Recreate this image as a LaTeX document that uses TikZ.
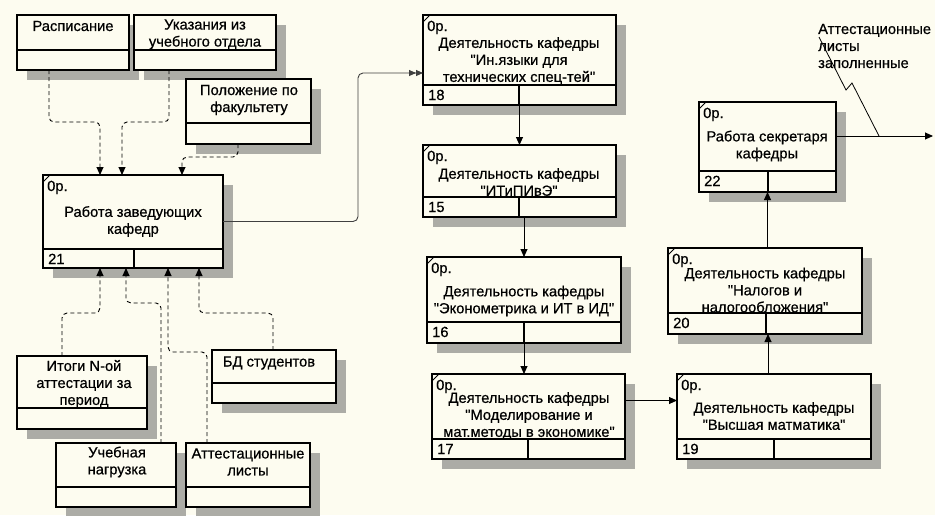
\documentclass[tikz,border=0pt]{standalone}
\usepackage{fontspec}
\setmainfont{Liberation Sans}
\newfontfamily\dfont{Liberation Sans}[FakeBold=0.6]
\usetikzlibrary{arrows.meta}
\definecolor{bg}{RGB}{253,252,240}
\definecolor{shadc}{RGB}{172,172,166}
\tikzset{
  boxst/.style={draw, line width=1.6pt, fill=bg, inner sep=0pt, outer sep=0pt, rectangle},
  shad/.style={fill=shadc},
  divl/.style={line width=1.6pt},
  lbl/.style={font=\dfont\fontsize{14.7}{17}\selectfont, align=center, inner sep=0pt},
  smalltxt/.style={font=\dfont\fontsize{14.7}{17}\selectfont, inner sep=0pt, anchor=base west},
  dconn/.style={line width=0.9pt, dash pattern=on 4pt off 3pt, rounded corners=5pt, -{Triangle[length=8pt,width=7pt]}},
  sconn/.style={line width=0.9pt, -{Triangle[length=8pt,width=7pt]}},
  dblconn/.style={line width=0.9pt, black!75, rounded corners=5pt, -{Triangle[length=7pt,width=6pt]Triangle[length=7pt,width=6pt]}},
}
\newcommand\dbox[6]{%
  \fill[shad] (#2+10,#3+10) rectangle (#4+10,#5+10);
  \node[boxst, minimum width={(#4-#2)*1pt}, minimum height={(#5-#3)*1pt}] (#1) at ({(#2+#4)/2},{(#3+#5)/2}) {};
  \draw[divl] (#2,#6) -- (#4,#6);
}
\newcommand\abox[8]{%
  \dbox{#1}{#2}{#3}{#4}{#5}{#6}
  \draw[divl] (#7,#6) -- (#7,#5);
  \draw[line width=1pt] (#2,#3+7) -- (#2+7,#3);
  \node[smalltxt] (#1-o) at (#2+4,#3+16) {0р.};
  \node[smalltxt] (#1-n) at (#2+5,#6+15) {#8};
}
\begin{document}
\begin{tikzpicture}[x=1pt,y=-1pt]
\useasboundingbox[fill=bg] (0,0) rectangle (935,515);
% data boxes
\dbox{rasp}{17}{15}{129}{70}{50}
\node[lbl] (rasp-t) at (73,26) {Расписание};
\dbox{ukaz}{134}{15}{276}{70}{50}
\node[lbl] (ukaz-t) at (205,34.5) {Указания из\\учебного отдела};
\dbox{polo}{186}{79}{311}{144}{123}
\node[lbl] (polo-t) at (249,100) {Положение по\\факультету};
\dbox{itogi}{17}{356}{147}{429}{408}
\node[lbl] (itogi-t) at (84,384) {Итоги N-ой\\аттестации за\\период};
\dbox{ucheb}{56}{443}{176}{507}{487}
\node[lbl] (ucheb-t) at (117,462) {Учебная\\нагрузка};
\dbox{attl}{186}{443}{310}{507}{487}
\node[lbl] (attl-t) at (248,462) {Аттестационные\\листы};
\dbox{bd}{212}{350}{336}{403}{383}
\node[lbl] (bd-t) at (269,363) {БД студентов};
% activity boxes
\abox{a21}{43}{175}{223}{268}{249}{134}{21}
\node[lbl] (a21-t) at (133,221.5) {Работа заведующих\\кафедр};
\abox{a18}{423}{15}{616}{105}{85}{519}{18}
\node[lbl] (a18-t) at (519,61) {Деятельность кафедры\\"Ин.языки для\\технических спец-тей"};
\abox{a15}{423}{145}{616}{217}{197}{519}{15}
\node[lbl] (a15-t) at (519,182) {Деятельность кафедры\\"ИТиПИвЭ"};
\abox{a16}{427}{257}{621}{343}{322}{524}{16}
\node[lbl] (a16-t) at (524,301) {Деятельность кафедры\\"Эконометрика и ИТ в ИД"};
\abox{a17}{432}{374}{625}{459}{439}{528}{17}
\node[lbl] (a17-t) at (529,416) {Деятельность кафедры\\"Моделирование и\\мат.методы в экономике"};
\abox{a19}{677}{374}{871}{459}{439}{774}{19}
\node[lbl] (a19-t) at (774,416) {Деятельность кафедры\\"Высшая матматика"};
\abox{a20}{668}{248}{862}{334}{313}{766}{20}
\node[lbl] (a20-t) at (765,290) {Деятельность кафедры\\"Налогов и\\налогообложения"};
\abox{a22}{699}{102}{836}{192}{171}{768}{22}
\node[lbl] (a22-t) at (767,146) {Работа секретаря\\кафедры};
% output label
\node[lbl, align=left, anchor=west] (outl) at (818,46) {Аттестационные\\листы\\заполненные};
% dashed connectors into a21
\draw[dconn] ([xshift=32pt]rasp.south west) -- ++(0,52) -| ([xshift=57pt]a21.north west);
\draw[dconn] ([xshift=35pt]ukaz.south west) -- ++(0,52) -| ([xshift=79pt]a21.north west);
\draw[dconn] ([xshift=52pt]polo.south west) -- ++(0,13) -| ([xshift=139pt]a21.north west);
\draw[dconn] ([xshift=45pt]itogi.north west) -- ++(0,-43) -| ([xshift=57pt]a21.south west);
\draw[dconn] ([xshift=105pt]ucheb.north west) -- ++(0,-140) -| ([xshift=83pt]a21.south west);
\draw[dconn] ([xshift=21pt]attl.north west) -- ++(0,-91) -| ([xshift=125pt]a21.south west);
\draw[dconn] ([xshift=61pt]bd.north west) -- ++(0,-37) -| ([xshift=156pt]a21.south west);
% solid connectors
\draw[dblconn] (a21.east) -- ++(135,0) |- ([yshift=-13pt]a18.west);
\draw[sconn] (a18.south) -- (a15.north);
\draw[sconn] (a16.north |- a15.south) -- (a16.north);
\draw[sconn] (a16.south) -- (a16.south |- a17.north);
\draw[sconn] ([yshift=16pt]a17.east) -- ([yshift=16pt]a17.east -| a19.west);
\draw[sconn] ([xshift=-6pt]a19.north) -- ([xshift=-6pt]a19.north |- a20.south);
\draw[sconn] (a22.south |- a20.north) -- (a22.south);
\coordinate (outend) at (933,136);
\draw[sconn] ([yshift=11pt]a22.east) -- (outend);
% squiggle
\coordinate (sq1) at (819,37);
\coordinate (sq2) at (846,90);
\coordinate (sq3) at (852,83);
\coordinate (sq4) at (879,136);
\draw[line width=0.8pt] (sq1) -- (sq2) -- (sq3) -- (sq4);
\end{tikzpicture}
\end{document}
